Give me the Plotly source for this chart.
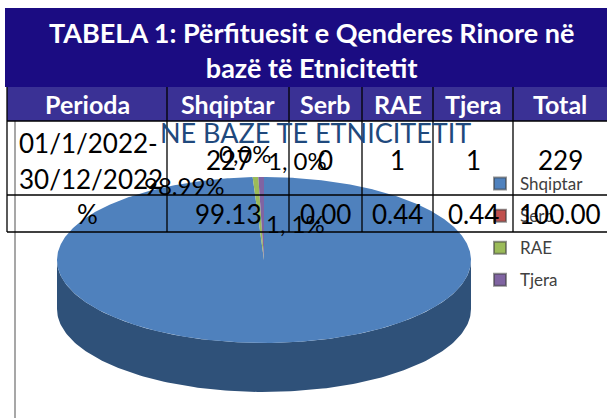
import numpy as np
import plotly.graph_objects as go

# ---------------- data ----------------
title_lines = ["TABELA 1: Përfituesit e Qenderes Rinore në", "bazë të Etnicitetit"]
columns = ["Perioda", "Shqiptar", "Serb", "RAE", "Tjera", "Total"]
period = ["01/1/2022-", "30/12/2022"]
counts = [227, 0, 1, 1]
total_count = 229
percents = [99.13, 0.00, 0.44, 0.44]
total_pct = 100.00
pct_row_label = "%"

pie_title = "NE BAZE TE ETNICITETIT"
pie_labels = ["Shqiptar", "Serb", "RAE", "Tjera"]
pie_values = [227, 0, 1, 1]
pie_label_text = ["98.99%", "0,0%", "1, 0%", "1, 1%"]
pie_colors = ["#4f81bd", "#c0504d", "#9bbb59", "#8064a2"]

# ---------------- layout constants ----------------
W, H = 607, 418
FONT = "Lato"
col_edges = [7, 167, 289, 362, 433, 513, 607]
title_top, header_top, row1_top, row2_top, table_bottom = 8, 87, 121, 195, 232

cx, cy, rx, ry, depth = 264, 260, 207, 83, 49
side_color = "#2f5179"

fig = go.Figure()

def ell(theta_deg, dy=0.0):
    t = np.radians(theta_deg)
    return cx + rx * np.sin(t), cy - ry * np.cos(t) + dy

# side of the 3D pie (front half)
th = np.linspace(90, 270, 160)
xs_top, ys_top = ell(th)
xs_bot, ys_bot = ell(th[::-1], depth)
fig.add_trace(go.Scatter(
    x=np.concatenate([xs_top, xs_bot]), y=np.concatenate([ys_top, ys_bot]),
    fill="toself", fillcolor=side_color, mode="lines", line=dict(width=0),
    hoverinfo="skip", showlegend=False))

# top face slices computed from values
tot = float(sum(pie_values))
start = 0.0
for lab, v, c in zip(pie_labels, pie_values, pie_colors):
    sweep = 360.0 * v / tot
    if sweep > 0:
        t = np.linspace(start, start + sweep, max(3, int(sweep * 2)))
        ax_, ay_ = ell(t)
        fig.add_trace(go.Scatter(
            x=np.concatenate([[cx], ax_, [cx]]), y=np.concatenate([[cy], ay_, [cy]]),
            fill="toself", fillcolor=c, mode="lines", line=dict(width=0),
            name=lab, hoverinfo="name", showlegend=False))
    start += sweep

# legend entries
for lab, c in zip(pie_labels, pie_colors):
    fig.add_trace(go.Scatter(
        x=[None], y=[None], mode="markers", name=lab, legendgroup=lab,
        marker=dict(symbol="square", size=11, color=c,
                    line=dict(color="rgba(60,60,60,0.55)", width=1))))

shapes = []
annotations = []

# title & header bars
shapes.append(dict(type="rect", x0=5, x1=W, y0=title_top, y1=header_top,
                   fillcolor="#1b0c82", line=dict(width=0), layer="above"))
shapes.append(dict(type="rect", x0=col_edges[0], x1=W, y0=header_top, y1=row1_top,
                   fillcolor="#3a3195", line=dict(width=0), layer="above"))

# table lines
lc = dict(color="black", width=1.3)
for yv in [row1_top, row2_top, table_bottom]:
    shapes.append(dict(type="line", x0=col_edges[0], x1=W, y0=yv, y1=yv, line=lc, layer="above"))
for xv in col_edges[:-1]:
    shapes.append(dict(type="line", x0=xv, x1=xv, y0=header_top, y1=table_bottom, line=lc, layer="above"))
# chart frame left edge
shapes.append(dict(type="line", x0=15, x1=15, y0=row1_top, y1=H,
                   line=dict(color="#8a8a8a", width=1.5), layer="below"))

# title text
annotations.append(dict(x=311, y=50, text="<br>".join(title_lines),
                        showarrow=False, font=dict(family=FONT, size=27, color="white", weight="bold"),
                        xanchor="center", yanchor="middle"))
# header text
for i, col in enumerate(columns):
    xc = (col_edges[i] + col_edges[i + 1]) / 2
    annotations.append(dict(x=xc, y=(header_top + row1_top) / 2, text=col, showarrow=False,
                            font=dict(family=FONT, size=25, color="white", weight="bold"),
                            xanchor="center", yanchor="middle"))

# chart title
annotations.append(dict(x=315, y=132, text=pie_title, showarrow=False,
                        font=dict(family=FONT, size=27, color="#1f497d"),
                        xanchor="center", yanchor="middle"))

# pie data labels
label_pos = [(184, 185), (245, 153), (297, 160), (295, 223)]
for (lx, ly), t in zip(label_pos, pie_label_text):
    annotations.append(dict(x=lx, y=ly, text=t, showarrow=False,
                            font=dict(family=FONT, size=24, color="black"),
                            xanchor="center", yanchor="middle"))

# row 1
tf = dict(family=FONT, size=26, color="black")
annotations.append(dict(x=17, y=143, text=period[0], showarrow=False, font=tf,
                        xanchor="left", yanchor="middle"))
annotations.append(dict(x=17, y=179, text=period[1], showarrow=False, font=tf,
                        xanchor="left", yanchor="middle"))
row1_vals = [str(v) for v in counts] + [str(total_count)]
for i, t in enumerate(row1_vals):
    xc = (col_edges[i + 1] + col_edges[i + 2]) / 2
    annotations.append(dict(x=xc, y=160, text=t, showarrow=False, font=tf,
                            xanchor="center", yanchor="middle"))
# row 2
row2_vals = [pct_row_label] + [f"{v:.2f}" for v in percents] + [f"{total_pct:.2f}"]
for i, t in enumerate(row2_vals):
    xc = (col_edges[i] + col_edges[i + 1]) / 2
    annotations.append(dict(x=xc, y=214, text=t, showarrow=False, font=tf,
                            xanchor="center", yanchor="middle"))

fig.update_layout(
    width=W, height=H, margin=dict(l=0, r=0, t=0, b=0),
    paper_bgcolor="white", plot_bgcolor="white",
    xaxis=dict(range=[0, W], visible=False, fixedrange=True),
    yaxis=dict(range=[H, 0], visible=False, fixedrange=True),
    shapes=shapes, annotations=annotations,
    showlegend=True,
    legend=dict(x=480 / W, y=1 - 166 / H, xanchor="left", yanchor="top",
                font=dict(family=FONT, size=17, color="#404040"),
                bgcolor="rgba(0,0,0,0)", tracegroupgap=7, itemsizing="constant"),
)

fig.write_html("out.html", config={"displayModeBar": False},
               post_script="document.body.style.margin='0';document.body.style.padding='0';")
